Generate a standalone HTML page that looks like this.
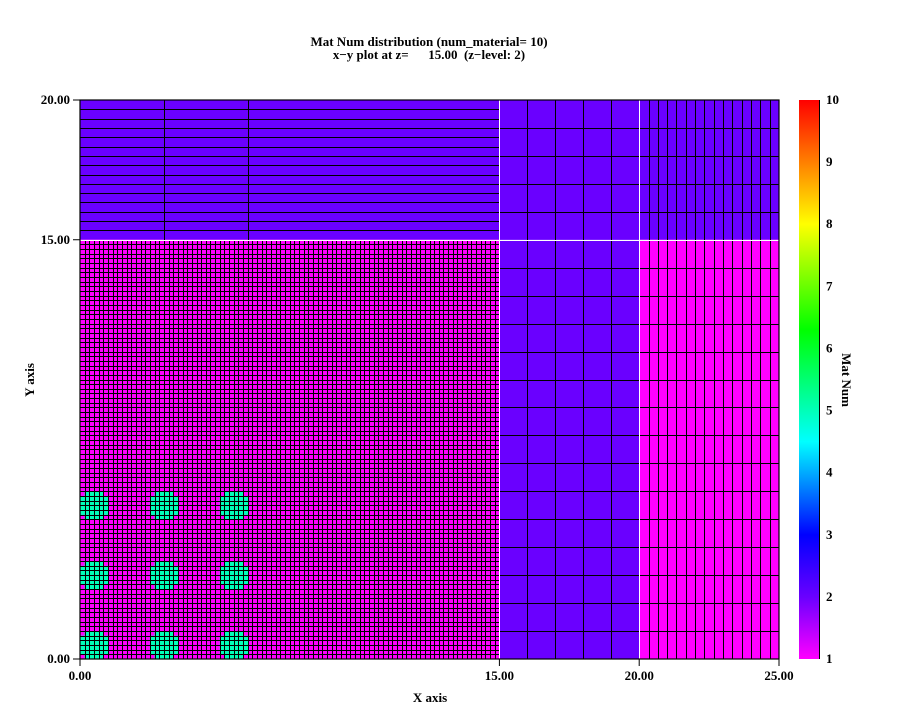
<!DOCTYPE html>
<html><head><meta charset="utf-8"><style>
html,body{margin:0;padding:0;background:#fff;}
svg{display:block;font-family:"Liberation Serif",serif;}
</style></head><body>
<svg id="chart" width="900" height="710" viewBox="0 0 900 710" xmlns="http://www.w3.org/2000/svg">
<defs>
<linearGradient id="cmap" x1="0" y1="1" x2="0" y2="0">
<stop offset="0" stop-color="#ff00ff"/>
<stop offset="0.111" stop-color="#6a00ff"/>
<stop offset="0.222" stop-color="#0000ff"/>
<stop offset="0.389" stop-color="#00ffff"/>
<stop offset="0.589" stop-color="#00ff00"/>
<stop offset="0.778" stop-color="#ffff00"/>
<stop offset="1" stop-color="#ff0000"/>
</linearGradient>
</defs>
<text x="429" y="46" text-anchor="middle" font-size="13" font-weight="bold">Mat Num distribution (num_material= 10)</text>
<text x="429" y="59" text-anchor="middle" font-size="13" font-weight="bold" xml:space="preserve">x−y plot at z=      15.00  (z−level: 2)</text>
<g id="plot"></g>
<g id="axes"></g>
<rect x="799" y="100" width="20" height="559" fill="url(#cmap)"/>
<line x1="819.5" y1="100" x2="819.5" y2="659" stroke="#000" stroke-width="1"/>
<g id="cbticks"></g>
<text transform="translate(842,380) rotate(90)" text-anchor="middle" font-size="13" font-weight="bold">Mat Num</text>
<text x="430" y="702" text-anchor="middle" font-size="13" font-weight="bold">X axis</text>
<text transform="translate(34,380) rotate(-90)" text-anchor="middle" font-size="13" font-weight="bold">Y axis</text>
</svg>
<script>
const xTicks=[0,15,20,25];
const yTicks=[0,15,20];
const cbTicks=[1,2,3,4,5,6,7,8,9,10];
// region material values: [x0,x1,y0,y1,mat]
const regionX0=[0,15,20,0,15,20];
const regionX1=[15,20,25,15,20,25];
const regionY0=[15,15,15,0,0,0];
const regionY1=[20,20,20,15,15,15];
const regionMat=[2,2,2,1,2,1];
const inclusionX=[0.5,3,5.5];
const inclusionY=[0.5,3,5.5];
const inclusionR=0.5;
const inclusionMat=5.0;

const NS="http://www.w3.org/2000/svg";
const X=v=>80+v*(699/25);
const Y=v=>659-v*(559/20);
const R=v=>Math.round(v)+0.5;
function matColor(m){
  const st=[[1,[255,0,255]],[2,[106,0,255]],[3,[0,0,255]],[4.5,[0,255,255]],[6.3,[0,255,0]],[8,[255,255,0]],[10,[255,0,0]]];
  for(let i=0;i<st.length-1;i++){
    if(m<=st[i+1][0]){const t=(m-st[i][0])/(st[i+1][0]-st[i][0]);
      const c=st[i][1].map((a,k)=>Math.round(a+(st[i+1][1][k]-a)*t));return `rgb(${c})`;}
  }
  return 'rgb(255,0,0)';
}
function mk(tag,attrs,parent){const e=document.createElementNS(NS,tag);for(const k in attrs)e.setAttribute(k,attrs[k]);parent.appendChild(e);return e;}
const plot=document.getElementById('plot');
for(let i=0;i<regionMat.length;i++){
  const r=mk('rect',{x:X(regionX0[i]),y:Y(regionY1[i]),width:X(regionX1[i])-X(regionX0[i]),height:Y(regionY0[i])-Y(regionY1[i]),fill:matColor(regionMat[i])},plot);
  
  
}
const d=1/6;
for(let i=0;i<90;i++)for(let j=0;j<90;j++){
  const cx=(i+0.5)*d, cy=(j+0.5)*d;
  let hit=false;
  for(const ix of inclusionX)for(const iy of inclusionY){if((cx-ix)**2+(cy-iy)**2<=(inclusionR+0.02)**2)hit=true;}
  if(hit){
    const c=mk('rect',{x:X(i*d),y:Y((j+1)*d),width:X(d)-X(0)+0.3,height:Y(0)-Y(d)+0.3,fill:matColor(inclusionMat)},plot);
    
    
  }
}
let p='';
const vl=(x,y0,y1)=>{p+=`M${R(X(x))} ${Y(y0).toFixed(1)}V${Y(y1).toFixed(1)}`;};
const hl=(y,x0,x1)=>{p+=`M${X(x0).toFixed(1)} ${R(Y(y))}H${X(x1).toFixed(1)}`;};
for(let i=1;i<90;i++){vl(i*d,0,15);hl(i*d,0,15);}
for(let i=1;i<15;i++)hl(15+i/3,0,15);
vl(3,15,20);vl(6,15,20);
for(let i=1;i<5;i++){vl(15+i,0,20);}
for(let i=1;i<20;i++)if(i!==15)hl(i,15,25);
for(let i=1;i<15;i++)vl(20+i/3,0,20);
const g=mk('path',{d:p,stroke:'#000','stroke-width':1,fill:'none','shape-rendering':'crispEdges'},plot);


const w=mk('path',{d:`M${R(X(15))} ${Y(0)}V${Y(20)}M${R(X(20))} ${Y(0)}V${Y(20)}M${X(0)} ${R(Y(15))}H${X(25)}`,stroke:'#fff','stroke-width':1,fill:'none','shape-rendering':'crispEdges'},plot);


const ax=document.getElementById('axes');
const fr=mk('rect',{x:X(0),y:Y(20),width:X(25)-X(0),height:Y(0)-Y(20),fill:'none',stroke:'#000','stroke-width':1.2},ax);


xTicks.forEach(v=>{
  mk('line',{x1:X(v),x2:X(v),y1:659,y2:666,stroke:'#000'},ax);
  const t=mk('text',{x:X(v),y:680,'text-anchor':'middle','font-size':13,'font-weight':'bold'},ax);t.textContent=v.toFixed(2);
  
  
});
yTicks.forEach(v=>{
  mk('line',{x1:73,x2:80,y1:Y(v),y2:Y(v),stroke:'#000'},ax);
  const t=mk('text',{x:70,y:Y(v)+4,'text-anchor':'end','font-size':13,'font-weight':'bold'},ax);t.textContent=v.toFixed(2);
  
  
});
const cb=document.getElementById('cbticks');
cbTicks.forEach(v=>{
  const y=659-(v-1)*(559/9);
  const t=mk('text',{x:826,y:y+4,'font-size':13,'font-weight':'bold'},cb);t.textContent=v;
  
  
});
</script>
</body></html>
